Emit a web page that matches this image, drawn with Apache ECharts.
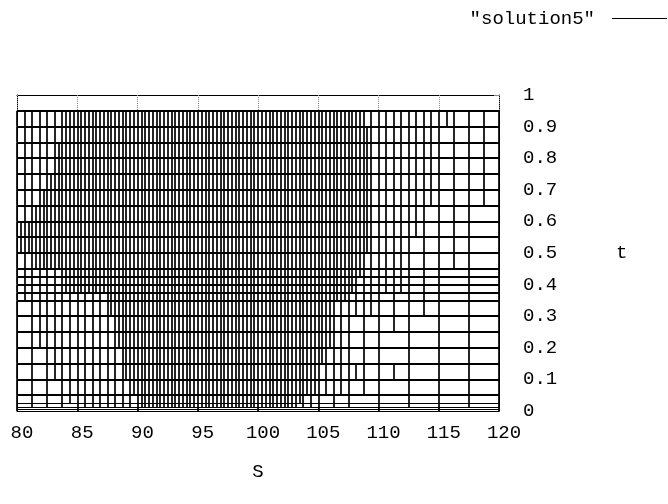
<!DOCTYPE html>
<html>
<head>
<meta charset="utf-8">
<script src="https://cdn.jsdelivr.net/npm/echarts@6/dist/echarts.min.js"></script>
<style>html,body{margin:0;padding:0;background:#fff}#c{width:668px;height:504px}</style>
</head>
<body>
<div id="c"></div>
<script>
// ---- data ----
const seriesName = '"solution5"';
const xTickLabels = ['80','85','90','95','100','105','110','115','120'];
const yTickLabels = ['0','0.1','0.2','0.3','0.4','0.5','0.6','0.7','0.8','0.9','1'];
// time levels of the mesh (horizontal lines)
const tLevels = [0, 0.00625, 0.0125, 0.025, 0.05, 0.1, 0.15, 0.2, 0.25, 0.3, 0.35, 0.375, 0.4, 0.425, 0.45, 0.5, 0.55, 0.6, 0.65, 0.7, 0.75, 0.8, 0.85, 0.9, 0.95];
// spatial mesh of each time band (bottom to top): [from S, to S, spacing]
const rowSegments = [
  [[80,120,5]],
  [[80,120,5]],
  [[80,85,1.25],[85,90,0.625],[90,103.125,0.3125],[103.125,105,0.625],[105,107.5,1.25],[107.5,120,2.5]],
  [[80,83.75,1.25],[83.75,90,0.625],[90,103.75,0.3125],[103.75,105,0.625],[105,107.5,1.25],[107.5,120,2.5]],
  [[80,83.75,1.25],[83.75,89.375,0.625],[89.375,105,0.3125],[105,107.5,0.625],[107.5,110,1.25],[110,120,2.5]],
  [[80,82.5,1.25],[82.5,88.75,0.625],[88.75,105,0.3125],[105,108.75,0.625],[108.75,112.5,1.25],[112.5,120,2.5]],
  [[80,82.5,1.25],[82.5,88.75,0.625],[88.75,105.625,0.3125],[105.625,107.5,0.625],[107.5,110,1.25],[110,120,2.5]],
  [[80,81.25,1.25],[81.25,88.125,0.625],[88.125,106.25,0.3125],[106.25,107.5,0.625],[107.5,110,1.25],[110,120,2.5]],
  [[80,81.25,1.25],[81.25,88.125,0.625],[88.125,106.25,0.3125],[106.25,107.5,0.625],[107.5,112.5,1.25],[112.5,120,2.5]],
  [[80,81.25,1.25],[81.25,87.5,0.625],[87.5,106.25,0.3125],[106.25,110,0.625],[110,115,1.25],[115,120,2.5]],
  [[80,87.5,0.625],[87.5,107.5,0.3125],[107.5,110,0.625],[110,115,1.25],[115,120,2.5]],
  [[80,83.75,0.625],[83.75,108.125,0.3125],[108.125,112.5,0.625],[112.5,115,1.25],[115,120,2.5]],
  [[80,83.75,0.625],[83.75,108.125,0.3125],[108.125,112.5,0.625],[112.5,115,1.25],[115,120,2.5]],
  [[80,83.75,0.625],[83.75,108.75,0.3125],[108.75,112.5,0.625],[112.5,115,1.25],[115,120,2.5]],
  [[80,81.25,0.625],[81.25,108.75,0.3125],[108.75,112.5,0.625],[112.5,117.5,1.25],[117.5,120,2.5]],
  [[80,109.375,0.3125],[109.375,112.5,0.625],[112.5,117.5,1.25],[117.5,120,2.5]],
  [[80,109.375,0.3125],[109.375,113.75,0.625],[113.75,117.5,1.25],[117.5,120,2.5]],
  [[80,81.25,0.625],[81.25,109.375,0.3125],[109.375,113.75,0.625],[113.75,117.5,1.25],[117.5,120,2.5]],
  [[80,81.875,0.625],[81.875,109.375,0.3125],[109.375,115,0.625],[115,120,1.25]],
  [[80,82.5,0.625],[82.5,109.375,0.3125],[109.375,115,0.625],[115,120,1.25]],
  [[80,83.125,0.625],[83.125,109.375,0.3125],[109.375,115,0.625],[115,120,1.25]],
  [[80,83.125,0.625],[83.125,109.375,0.3125],[109.375,115,0.625],[115,120,1.25]],
  [[80,83.75,0.625],[83.75,109.375,0.3125],[109.375,115,0.625],[115,120,1.25]],
  [[80,83.75,0.625],[83.75,108.75,0.3125],[108.75,116.25,0.625],[116.25,120,1.25]]
];
const sMin = 80, sMax = 120;

// ---- build line data ----
const vData = [];
rowSegments.forEach((segs, i) => {
  const t0 = tLevels[i], t1 = tLevels[i + 1];
  const seen = new Set();
  segs.forEach(([a, b, st]) => {
    const n = Math.round((b - a) / st);
    for (let k = 0; k <= n; k++) {
      const x = +(a + k * st).toFixed(5);
      if (seen.has(x)) continue;
      seen.add(x);
      vData.push({coords: [[x, t0], [x, t1]]});
    }
  });
});
// thin lines for the very closely spaced bottom levels, thicker elsewhere
const hData = tLevels.map((t, i) => ({
  coords: [[sMin, t], [sMax, t]],
  lineStyle: {width: i < 4 ? 1 : 1.8}
}));

const FONT = 'Liberation Mono';
const chart = echarts.init(document.getElementById('c'), null, {renderer: 'canvas'});
chart.setOption({
  animation: false,
  backgroundColor: '#fff',
  textStyle: {fontFamily: FONT},
  grid: {left: 17, right: 169, top: 95, bottom: 93},
  legend: {
    right: -4, top: 4, align: 'right', icon: 'rect', itemWidth: 55, itemHeight: 1,
    data: [seriesName],
    itemStyle: {color: '#000', borderWidth: 0},
    lineStyle: {width: 0},
    textStyle: {fontFamily: FONT, fontSize: 19, color: '#000', padding: [0, 12, 0, 0]}
  },
  xAxis: [{
    type: 'value', min: 80, max: 120, interval: 5, position: 'bottom',
    name: 'S', nameLocation: 'middle', nameGap: 51,
    nameTextStyle: {fontFamily: FONT, fontSize: 19, color: '#000'},
    axisLine: {show: true, onZero: false, lineStyle: {color: '#000', width: 1}},
    axisTick: {show: true, inside: true, length: 5, lineStyle: {color: '#777'}},
    axisLabel: {
      fontFamily: FONT, fontSize: 19, color: '#000', margin: 12, padding: [0, 0, 0, 10],
      formatter: v => xTickLabels[Math.round((v - 80) / 5)]
    },
    splitLine: {show: false}
  }, {
    type: 'value', min: 80, max: 120, interval: 5, position: 'top',
    axisLine: {show: true, onZero: false, lineStyle: {color: '#000', width: 1}},
    axisTick: {show: true, inside: true, length: 15, lineStyle: {color: '#888', type: 'dotted'}},
    axisLabel: {show: false}, splitLine: {show: false}
  }],
  yAxis: [{
    type: 'value', min: 0, max: 1, interval: 0.1, position: 'right',
    name: 't', nameLocation: 'middle', nameGap: 117, nameRotate: 0,
    nameTextStyle: {fontFamily: FONT, fontSize: 19, color: '#000'},
    axisLine: {show: true, onZero: false, lineStyle: {color: '#000', width: 1}},
    axisTick: {show: true, inside: true, length: 5, lineStyle: {color: '#888'}},
    axisLabel: {
      fontFamily: FONT, fontSize: 19, color: '#000', margin: 24,
      formatter: v => yTickLabels[Math.round(v * 10)]
    },
    splitLine: {show: false}
  }, {
    type: 'value', min: 0, max: 1, position: 'left',
    axisLine: {show: true, onZero: false, lineStyle: {color: '#000', width: 1}},
    axisTick: {show: false}, axisLabel: {show: false}, splitLine: {show: false}
  }],
  series: [{
    name: seriesName, type: 'lines', coordinateSystem: 'cartesian2d',
    xAxisIndex: 0, yAxisIndex: 0, polyline: false, silent: true,
    lineStyle: {color: '#000', width: 1.7, opacity: 1},
    data: vData
  }, {
    name: seriesName, type: 'lines', coordinateSystem: 'cartesian2d',
    xAxisIndex: 0, yAxisIndex: 0, polyline: false, silent: true,
    lineStyle: {color: '#000', width: 1.8, opacity: 1},
    data: hData
  }]
});
</script>
</body>
</html>
